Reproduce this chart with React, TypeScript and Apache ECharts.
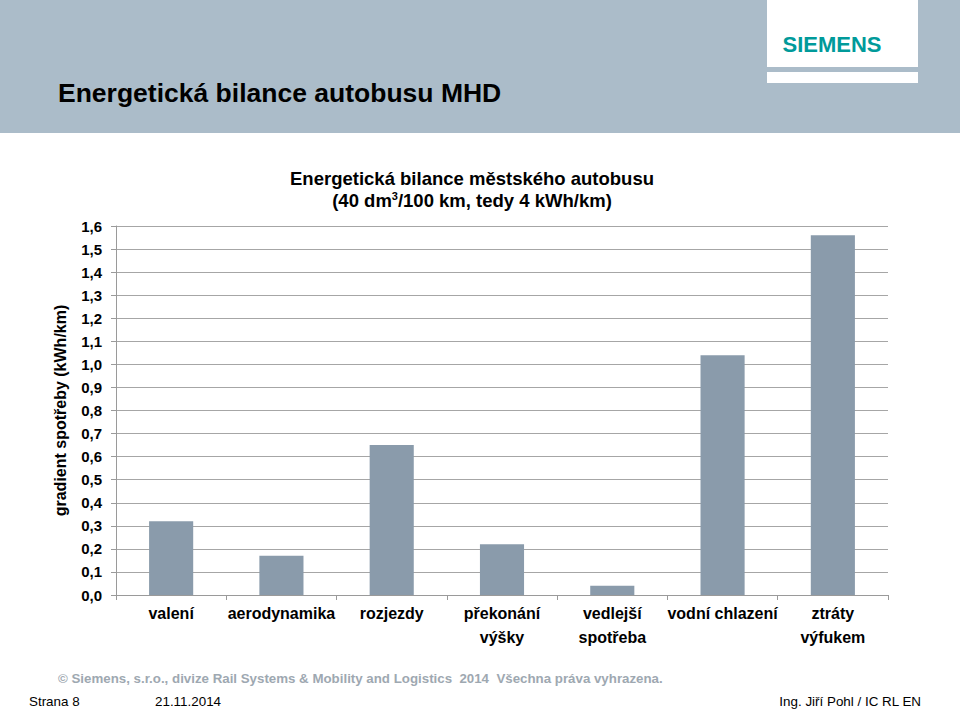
import React, { useEffect, useRef } from "react";
import * as echarts from "echarts";

const categories = [
  "valení",
  "aerodynamika",
  "rozjezdy",
  "překonání\nvýšky",
  "vedlejší\nspotřeba",
  "vodní chlazení",
  "ztráty\nvýfukem",
];
const values = [0.32, 0.17, 0.65, 0.22, 0.04, 1.04, 1.56];

const FONT = "'Liberation Sans', Arial, Helvetica, sans-serif";

export default function App() {
  const ref = useRef<HTMLDivElement>(null);
  useEffect(() => {
    if (!ref.current) return;
    const chart = echarts.init(ref.current, undefined, { renderer: "svg" });
    chart.setOption({
      animation: false,
      backgroundColor: "#ffffff",
      textStyle: { fontFamily: FONT },
      grid: { left: 116, right: 72, top: 226, bottom: 114, containLabel: false },
      xAxis: {
        type: "category",
        data: categories,
        axisLine: { show: true, lineStyle: { color: "#9a9a9a", width: 1 } },
        axisTick: { show: true, length: 5, alignWithLabel: false, lineStyle: { color: "#9a9a9a" } },
        axisLabel: {
          interval: 0,
          margin: 6,
          color: "#000",
          fontFamily: FONT,
          fontWeight: "bold",
          fontSize: 16,
          lineHeight: 24,
        },
      },
      yAxis: {
        type: "value",
        min: 0,
        max: 1.6,
        interval: 0.1,
        name: "gradient spotřeby (kWh/km)",
        nameLocation: "middle",
        nameGap: 48,
        nameTextStyle: { color: "#000", fontFamily: FONT, fontWeight: "bold", fontSize: 16 },
        axisLine: { show: true, lineStyle: { color: "#9a9a9a", width: 1 } },
        axisTick: { show: true, length: 5, lineStyle: { color: "#9a9a9a" } },
        axisLabel: {
          margin: 14,
          color: "#000",
          fontFamily: FONT,
          fontWeight: "bold",
          fontSize: 15,
          formatter: (v: number) => v.toFixed(1).replace(".", ","),
        },
        splitLine: { show: true, lineStyle: { color: "#a6a6a6", width: 1 } },
      },
      series: [
        {
          type: "bar",
          data: values,
          barWidth: "40%",
          itemStyle: { color: "#8a9bab" },
        },
      ],
      graphic: [
        { type: "rect", shape: { x: 0, y: 0, width: 960, height: 133 }, style: { fill: "#abbcc9" }, z: 0 },
        { type: "rect", shape: { x: 767, y: 0, width: 151, height: 67 }, style: { fill: "#ffffff" }, z: 1 },
        { type: "rect", shape: { x: 767, y: 72, width: 151, height: 11 }, style: { fill: "#ffffff" }, z: 1 },
        {
          type: "text",
          x: 832,
          y: 44,
          style: {
            text: "SIEMENS",
            fill: "#009a9a",
            font: `bold 22px ${FONT}`,
            textAlign: "center",
            textVerticalAlign: "middle",
          },
          z: 2,
        },
        {
          type: "text",
          x: 58,
          y: 93,
          style: {
            text: "Energetická bilance autobusu MHD",
            fill: "#000",
            font: `bold 26.5px ${FONT}`,
            textAlign: "left",
            textVerticalAlign: "middle",
          },
          z: 2,
        },
        {
          type: "text",
          x: 472,
          y: 189,
          style: {
            text: "{a|Energetická bilance městského autobusu}\n{a|(40 dm}{s|3}{a|/100 km, tedy 4 kWh/km)}",
            rich: {
              a: { fontFamily: FONT, fontWeight: "bold", fontSize: 18.5, lineHeight: 22, fill: "#000" },
              s: { fontFamily: FONT, fontWeight: "bold", fontSize: 11, lineHeight: 22, padding: [0, 0, 8, 0], fill: "#000" },
            },
            textAlign: "center",
            textVerticalAlign: "middle",
          },
          z: 2,
        },
        {
          type: "text",
          x: 58,
          y: 678,
          style: {
            text: "© Siemens, s.r.o., divize Rail Systems & Mobility and Logistics  2014  Všechna práva vyhrazena.",
            fill: "#9ea8b1",
            font: `bold 13.3px ${FONT}`,
            textAlign: "left",
            textVerticalAlign: "middle",
          },
          z: 2,
        },
        {
          type: "text",
          x: 29,
          y: 701,
          style: { text: "Strana 8", fill: "#000", font: `13.4px ${FONT}`, textAlign: "left", textVerticalAlign: "middle" },
          z: 2,
        },
        {
          type: "text",
          x: 155,
          y: 701,
          style: { text: "21.11.2014", fill: "#000", font: `13.4px ${FONT}`, textAlign: "left", textVerticalAlign: "middle" },
          z: 2,
        },
        {
          type: "text",
          x: 921,
          y: 701,
          style: { text: "Ing. Jiří Pohl / IC RL EN", fill: "#000", font: `13.4px ${FONT}`, textAlign: "right", textVerticalAlign: "middle" },
          z: 2,
        },
      ],
    });
    return () => chart.dispose();
  }, []);
  return (
    <div
      ref={ref}
      style={{ position: "absolute", left: 0, top: 0, width: 960, height: 709 }}
    />
  );
}
